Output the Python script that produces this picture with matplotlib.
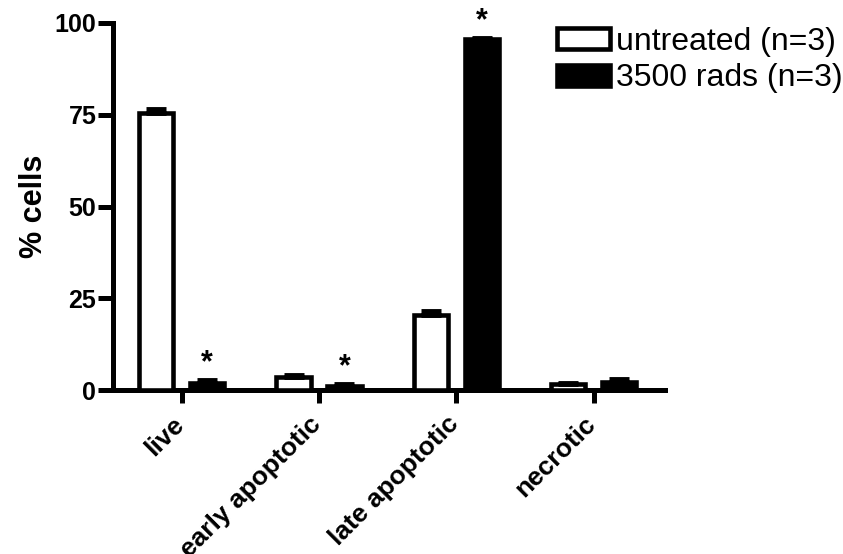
import numpy as np
import matplotlib
matplotlib.use("Agg")
import matplotlib.pyplot as plt
import matplotlib.transforms as mtransforms

plt.rcParams['font.family'] = ['Liberation Sans', 'DejaVu Sans']

categories = ['live', 'early apoptotic', 'late apoptotic', 'necrotic']
untreated = [75.5, 3.5, 20.5, 1.5]
untreated_err = [1.0, 0.6, 1.0, 0.4]
irradiated = [2.0, 1.2, 95.6, 2.2]
irradiated_err = [0.6, 0.3, 0.4, 0.8]
significant = [True, True, True, False]

fig = plt.figure(figsize=(8.43, 5.54), dpi=100)
ax = fig.add_axes([113/843, 1-390/554, (665-113)/843, (390-23)/554])

x = np.arange(len(categories))
off = 0.185
w = 0.25
lw = 3.3

ax.bar(x - off, untreated, w, color='white', edgecolor='black', linewidth=lw,
       label='untreated (n=3)', zorder=3)
ax.bar(x + off, irradiated, w, color='black', edgecolor='black', linewidth=lw,
       label='3500 rads (n=3)', zorder=3)

# upper error bars only
ax.errorbar(x - off, untreated, yerr=[np.zeros(4), untreated_err], fmt='none',
            ecolor='black', elinewidth=3, capsize=7, capthick=3.5, zorder=4)
ax.errorbar(x + off, irradiated, yerr=[np.zeros(4), irradiated_err], fmt='none',
            ecolor='black', elinewidth=3, capsize=7, capthick=3.5, zorder=4)

for i, s in enumerate(significant):
    if s:
        ax.text(x[i] + off, irradiated[i] + irradiated_err[i] + 0.5, '*',
                ha='center', va='bottom', fontsize=22, fontweight='bold')

ax.set_xlim(-0.5, 3.52)
ax.set_ylim(0, 100)
ax.set_yticks([0, 25, 50, 75, 100])
ax.set_xticks(x)
ax.tick_params(axis='x', labelbottom=False)

# rotated category labels hanging below each tick
lab_tr = ax.get_xaxis_transform() + mtransforms.ScaledTranslation(
    -10/100, -22/100, fig.dpi_scale_trans)
for xi, name in zip(x, categories):
    ax.text(xi, 0, name, transform=lab_tr, rotation=45, ha='right', va='top',
            rotation_mode='anchor', fontsize=19, fontweight='bold')

for t in ax.get_yticklabels():
    t.set_fontweight('bold')
    t.set_fontsize(18)

ax.spines['top'].set_visible(False)
ax.spines['right'].set_visible(False)
ax.spines['left'].set_linewidth(3.6)
ax.spines['bottom'].set_linewidth(3.6)
ax.tick_params(axis='y', length=11, width=3.6, pad=1)
ax.tick_params(axis='x', length=9, width=3.6)

ax.set_ylabel('% cells', fontsize=22, fontweight='bold', labelpad=4)

fig.legend(loc='upper left', bbox_to_anchor=(557/843, 1-27/554), frameon=False,
           fontsize=23, handlelength=1.65, handleheight=0.65, handletextpad=0.2,
           labelspacing=0.2, borderpad=0, borderaxespad=0)

fig.savefig('out.png', dpi=100)
